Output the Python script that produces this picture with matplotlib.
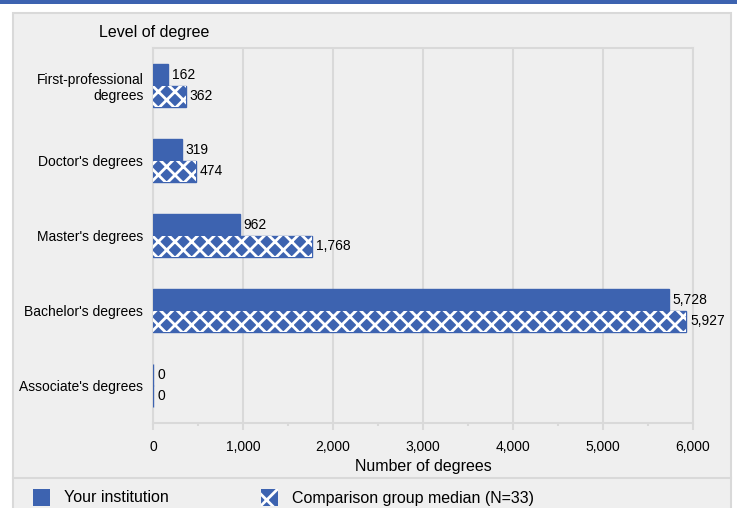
import matplotlib
matplotlib.use('Agg')
import matplotlib.pyplot as plt
import matplotlib.patches as mpatches
import numpy as np

# chart data
categories = ["First-professional\ndegrees", "Doctor's degrees", "Master's degrees",
              "Bachelor's degrees", "Associate's degrees"]
your_institution = [162, 319, 962, 5728, 0]
group_median = [362, 474, 1768, 5927, 0]
xticks = [0, 1000, 2000, 3000, 4000, 5000, 6000]
xtick_labels = ['0', '1,000', '2,000', '3,000', '4,000', '5,000', '6,000']

BLUE = '#3d63b0'
BG = '#efefef'
GRID = '#d9d9d9'

plt.rcParams['font.family'] = ['Liberation Sans', 'DejaVu Sans']
plt.rcParams['hatch.linewidth'] = 2.0

W, H = 737, 508
fig = plt.figure(figsize=(W / 100, H / 100), dpi=100)
fig.patch.set_facecolor('white')


def fx(px):
    return px / W


def fy(py):
    return 1 - py / H


# top blue band and gray panel (behind the axes)
fig.patches.append(mpatches.Rectangle((0, fy(4)), 1, 4 / H, transform=fig.transFigure,
                                      facecolor=BLUE, edgecolor='none', zorder=-2))
fig.patches.append(mpatches.Rectangle((fx(13), fy(520)), fx(731) - fx(13), fy(13) - fy(520),
                                      transform=fig.transFigure, facecolor=BG,
                                      edgecolor=GRID, linewidth=1.5, zorder=-2))
fig.lines.append(plt.Line2D([fx(13), fx(731)], [fy(478), fy(478)], transform=fig.transFigure,
                            color=GRID, linewidth=1.5, zorder=-1))

ax = fig.add_axes([fx(153), fy(423), fx(693) - fx(153), fy(48) - fy(423)])
ax.set_facecolor(BG)

y = np.arange(len(categories))
h = 0.29
ax.barh(y - h / 2, your_institution, height=h, color=BLUE, edgecolor=BLUE,
        linewidth=1, zorder=3)
ax.barh(y + h / 2, group_median, height=h, color=BLUE, edgecolor=BLUE, linewidth=1, zorder=3)
ax.barh(y + h / 2, group_median, height=h, color='none', edgecolor='white', linewidth=0,
        hatch='xx', zorder=4)

for yi, v in zip(y, your_institution):
    ax.text(v + 45, yi - h / 2, f'{v:,}', va='center', ha='left', fontsize=10, zorder=5)
for yi, v in zip(y, group_median):
    ax.text(v + 45, yi + h / 2, f'{v:,}', va='center', ha='left', fontsize=10, zorder=5)

ax.set_xlim(0, 6000)
ax.set_ylim(4.5, -0.5)
ax.set_xticks(xticks)
ax.set_xticklabels(xtick_labels, fontsize=10)
ax.set_xticks(np.arange(500, 6000, 1000), minor=True)
ax.set_yticks(y)
ax.set_yticklabels(categories, fontsize=10, linespacing=1.15)
ax.tick_params(axis='y', length=0, pad=7)
ax.tick_params(axis='x', which='major', length=5, width=1.5, color=GRID, pad=7)
ax.tick_params(axis='x', which='minor', length=2.5, width=1.5, color=GRID)
ax.grid(axis='x', color=GRID, linewidth=1.5, zorder=0)
ax.set_axisbelow(True)
for s in ax.spines.values():
    s.set_color(GRID)
    s.set_linewidth(1.5)

fig.text(fx(99), fy(33), 'Level of degree', fontsize=11.5, ha='left', va='center')
fig.text(fx(423), fy(467), 'Number of degrees', fontsize=11.5, ha='center', va='center')

# legend
fig.patches.append(mpatches.Rectangle((fx(33), fy(506)), 17 / W, 17 / H, transform=fig.transFigure,
                                      facecolor=BLUE, edgecolor='none'))
fig.patches.append(mpatches.Rectangle((fx(261), fy(506)), 17 / W, 17 / H, transform=fig.transFigure,
                                      facecolor=BLUE, edgecolor='none'))
fig.patches.append(mpatches.Rectangle((fx(261), fy(506)), 17 / W, 17 / H, transform=fig.transFigure,
                                      facecolor='none', edgecolor='white', linewidth=0, hatch='x'))
fig.text(fx(64), fy(498), 'Your institution', fontsize=11.5, ha='left', va='center')
fig.text(fx(292), fy(498), 'Comparison group median (N=33)', fontsize=11.5, ha='left', va='center')

fig.savefig('out.png', dpi=100, facecolor=fig.get_facecolor())
